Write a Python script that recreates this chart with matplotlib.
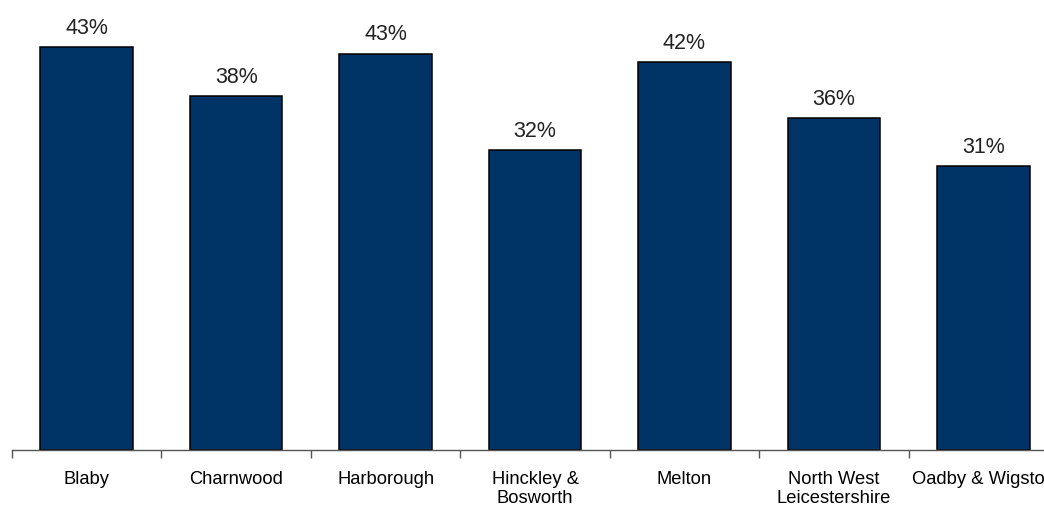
import numpy as np
import matplotlib.pyplot as plt
from matplotlib.ticker import FixedLocator

districts = ["Blaby", "Charnwood", "Harborough", "Hinckley &\nBosworth",
             "Melton", "North West\nLeicestershire", "Oadby & Wigston"]
shares = [43.4, 38.1, 42.7, 32.3, 41.8, 35.8, 30.6]
labels = ["43%", "38%", "43%", "32%", "42%", "36%", "31%"]

plt.rcParams['font.family'] = ['Liberation Sans', 'DejaVu Sans']

fig = plt.figure(figsize=(10.44, 5.09), dpi=100)
ax = fig.add_axes([12 / 1044, 59 / 509, 1046 / 1044, 450 / 509])

x = np.arange(len(districts))
bars = ax.bar(x, shares, width=0.62, color="#003366", edgecolor="black", linewidth=1.1)

for b, lab in zip(bars, labels):
    ax.annotate(lab, (b.get_x() + b.get_width() / 2, b.get_height()),
                xytext=(0, 6), textcoords="offset points",
                ha="center", va="bottom", fontsize=15.5, color="#222222")

ax.set_xlim(-0.5, len(districts) - 0.5)
ax.set_ylim(0, 48.5)
ax.set_xticks(x)
ax.set_xticklabels(districts, fontsize=13.2, linespacing=1.2)
ax.tick_params(axis="x", which="major", length=0, pad=15)
ax.xaxis.set_minor_locator(FixedLocator(np.arange(-0.5, len(districts), 1.0)))
ax.tick_params(axis="x", which="minor", length=6, color="#555555", width=1)
ax.set_yticks([])
for s in ["top", "right", "left"]:
    ax.spines[s].set_visible(False)
ax.spines["bottom"].set_color("#555555")
ax.spines["bottom"].set_linewidth(1)

fig.savefig("out.png", dpi=100)
